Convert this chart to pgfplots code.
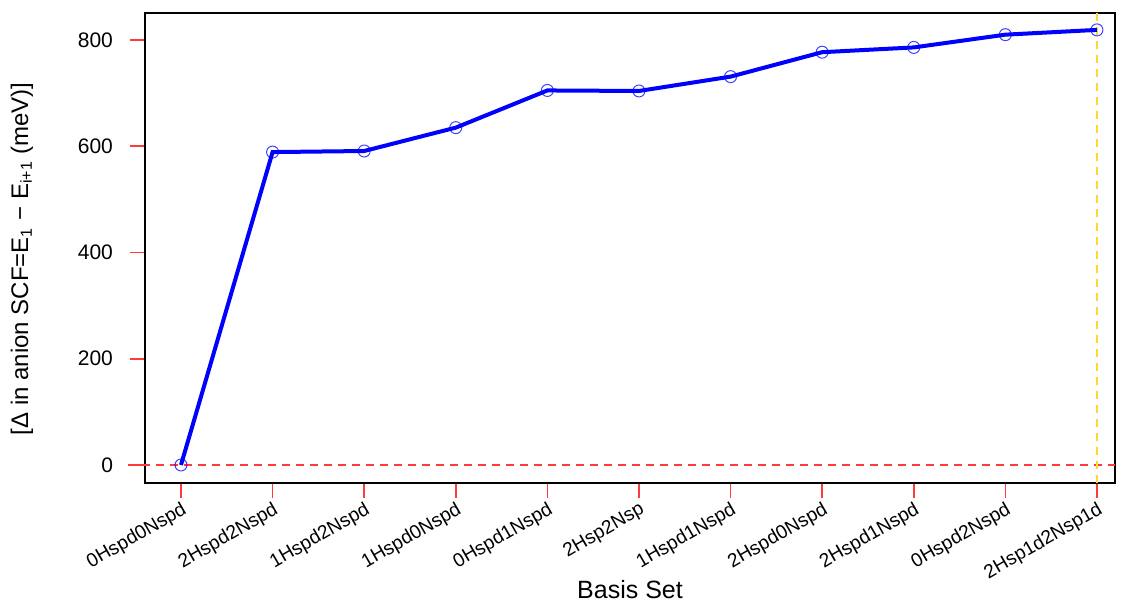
\documentclass[border=0pt]{standalone}
\usepackage{fontspec}
\setmainfont{Liberation Sans}
\usepackage{pgfplots}
\pgfplotsset{compat=1.18}
\definecolor{lineblue}{RGB}{0,0,255}
\definecolor{zred}{RGB}{255,60,60}
\definecolor{vgold}{RGB}{255,215,50}
\begin{document}
\begin{tikzpicture}
\begin{axis}[
  scale only axis, width=485pt, height=235pt,
  xmin=-0.393, xmax=10.197, ymin=-33.9, ymax=850.8,
  xtick={0,1,2,3,4,5,6,7,8,9,10},
  xticklabels={0Hspd0Nspd,2Hspd2Nspd,1Hspd2Nspd,1Hspd0Nspd,0Hspd1Nspd,2Hsp2Nsp,1Hspd1Nspd,2Hspd0Nspd,2Hspd1Nspd,0Hspd2Nspd,2Hsp1d2Nsp1d},
  ytick={0,200,400,600,800},
  tick pos=left,
  tick align=outside, major tick length=7.5pt,
  tick style={zred, line width=0.8pt},
  axis line style={line width=1.1pt},
  /pgf/number format/assume math mode=true,
  yticklabel style={font=\fontsize{10.5}{12}\selectfont, xshift=-5pt},
  xticklabel style={font=\fontsize{9.6}{11}\selectfont, xshift=5pt, yshift=-3.5pt, anchor=east, rotate=30},
  every axis y label/.style={at={(axis description cs:-0.1268,0.477)}, rotate=90, anchor=center, font=\fontsize{12}{14}\selectfont},
  every axis x label/.style={at={(axis description cs:0.5,-0.2277)}, anchor=center, font=\fontsize{12.5}{14}\selectfont},
  ylabel={[Δ in anion SCF=E\textsubscript{1} − E\textsubscript{i+1} (meV)]},
  xlabel={Basis Set},
  clip=false,
]
\addplot[zred, dashed, line width=0.7pt, dash pattern=on 4pt off 3pt, forget plot] coordinates {(-0.58,0) (10.197,0)};
\addplot[vgold, dashed, line width=0.7pt, dash pattern=on 4pt off 3pt, forget plot] coordinates {(10,-33.9) (10,850.8)};
\addplot[lineblue, line width=2pt, mark=o, mark size=3pt, mark options={line width=0.5pt, draw opacity=0.75}] coordinates {
(0,0) (1,589) (2,591) (3,635) (4,705) (5,704) (6,731) (7,777) (8,786) (9,810) (10,819)
};
\end{axis}
\pgfresetboundingbox
\path[use as bounding box] ([xshift=-72.5pt,yshift=-60pt]current axis.south west) rectangle ([xshift=5pt,yshift=6.5pt]current axis.north east);
\end{tikzpicture}
\end{document}
